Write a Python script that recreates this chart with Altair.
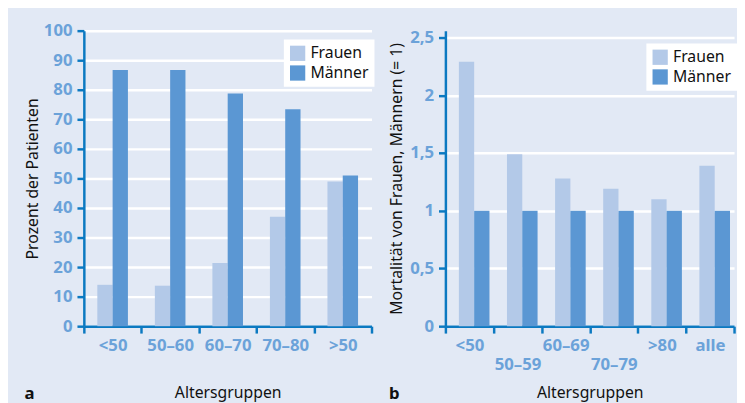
import altair as alt
import pandas as pd

groups_a = ["<50", "50–60", "60–70", "70–80", ">50"]
frauen_a = [14.0, 13.7, 21.4, 37.0, 49.0]
maenner_a = [86.7, 86.7, 78.7, 73.4, 51.0]

groups_b = ["<50", "50–59", "60–69", "70–79", ">80", "alle"]
frauen_b = [2.29, 1.49, 1.28, 1.19, 1.10, 1.39]
maenner_b = [1.0, 1.0, 1.0, 1.0, 1.0, 1.0]

series = ["Frauen", "Männer"]
ticks_a = list(range(0, 101, 10))
ticks_b = [0, 0.5, 1, 1.5, 2, 2.5]

BG = "#e2e9f5"
AXIS_BLUE = "#0b79c1"
LABEL_BLUE = "#6ba2d9"
COLORS = ["#b3c9e8", "#5b97d3"]
FONT = "Noto Sans"

df_a = pd.DataFrame({
    "Gruppe": groups_a * 2,
    "Geschlecht": ["Frauen"] * len(groups_a) + ["Männer"] * len(groups_a),
    "Wert": frauen_a + maenner_a,
})
df_b = pd.DataFrame({
    "Gruppe": groups_b * 2,
    "Geschlecht": ["Frauen"] * len(groups_b) + ["Männer"] * len(groups_b),
    "Wert": frauen_b + maenner_b,
})

color_scale = alt.Scale(domain=series, range=COLORS)


def legend(x, y):
    return alt.Legend(
        title=None, orient="none", legendX=x, legendY=y, fillColor="white",
        padding=6, symbolType="square", symbolSize=240, symbolStrokeWidth=0,
        labelFontSize=16, labelColor="#111111", labelFont=FONT, rowPadding=4,
        labelOffset=5,
    )


left = alt.Chart(df_a).mark_bar().encode(
    x=alt.X("Gruppe:N", sort=groups_a,
            scale=alt.Scale(paddingInner=0, paddingOuter=0),
            axis=alt.Axis(title="Altersgruppen", labelAngle=0, tickBand="extent",
                          grid=False, titlePadding=31, labelOverlap=False)),
    xOffset=alt.XOffset("Geschlecht:N", sort=series,
                        scale=alt.Scale(paddingInner=0, paddingOuter=0.88)),
    y=alt.Y("Wert:Q", scale=alt.Scale(domain=[0, 100], nice=False),
            axis=alt.Axis(values=ticks_a, title="Prozent der Patienten", titlePadding=3)),
    color=alt.Color("Geschlecht:N", scale=color_scale, sort=series, legend=legend(203, 9)),
).properties(
    width=292, height=300,
    title=alt.Title("a", orient="bottom", anchor="start", frame="bounds", offset=-14,
                    fontSize=17, fontWeight="bold", color="#111111", font=FONT),
)

right = alt.Chart(df_b).mark_bar().encode(
    x=alt.X("Gruppe:N", sort=groups_b,
            scale=alt.Scale(paddingInner=0, paddingOuter=0),
            axis=alt.Axis(title="Altersgruppen", labelAngle=0, tickBand="extent",
                          grid=False, titlePadding=12, labelOverlap=False,
                          labelLineHeight=19,
                          labelExpr="(datum.value == '50–59' || datum.value == '70–79') ? ['', datum.label] : datum.label")),
    xOffset=alt.XOffset("Geschlecht:N", sort=series,
                        scale=alt.Scale(paddingInner=0, paddingOuter=0.58)),
    y=alt.Y("Wert:Q", scale=alt.Scale(domain=[0, 2.56], nice=False),
            axis=alt.Axis(values=ticks_b, title="Mortalität von Frauen, Männern (= 1)",
                          titlePadding=5,
                          labelExpr="replace(format(datum.value, '~g'), '.', ',')")),
    color=alt.Color("Geschlecht:N", scale=color_scale, sort=series, legend=legend(204, 13)),
).properties(
    width=293, height=300,
    title=alt.Title("b", orient="bottom", anchor="start", frame="bounds", offset=-14,
                    fontSize=17, fontWeight="bold", color="#111111", font=FONT),
)

chart = alt.hconcat(left, right, spacing=14).resolve_scale(color="independent").properties(
    background=BG,
    padding={"left": 16, "top": 11, "right": 0, "bottom": 0},
).configure_view(stroke=None).configure_axis(
    domainColor=AXIS_BLUE, domainWidth=2.5, tickColor=AXIS_BLUE, tickWidth=2.5, tickSize=7,
    labelColor=LABEL_BLUE, labelFont=FONT, labelFontSize=17, labelFontWeight="bold",
    labelPadding=5, titleFont=FONT, titleFontSize=16, titleFontWeight="normal",
    titleColor="#111111", gridColor="white", gridWidth=2.5,
)

chart.save("out.html", embed_options={"renderer": "svg", "actions": False})
